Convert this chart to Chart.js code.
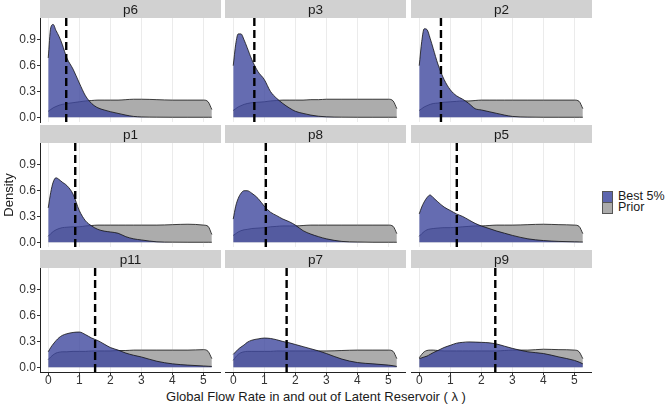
<!DOCTYPE html>
<html>
<head>
<meta charset="utf-8">
<script src="https://cdn.jsdelivr.net/npm/chart.js@4.4.1/dist/chart.umd.min.js"></script>
<style>
  html, body { margin:0; padding:0; background:#fff; }
  body { width:666px; height:405px; position:relative; overflow:hidden; font-family:"Liberation Sans", Arial, sans-serif; }
  canvas { position:absolute; }
  .key { position:absolute; width:9px; height:10px; border:0.5px solid #555; }
  .ltxt { position:absolute; font-size:12.5px; color:#1a1a1a; line-height:12px; }
  .strip { position:absolute; height:18px; line-height:19px; text-align:center; font-size:13.5px; color:#1a1a1a; z-index:5; }
  #xtitle { position:absolute; left:40px; width:552px; top:389px; text-align:center; font-size:13px; line-height:16px; color:#1a1a1a; white-space:nowrap; }
</style>
</head>
<body>
<div class="key" style="left:602px;top:191px;background:#5d66ae;"></div>
<div class="key" style="left:602px;top:202px;background:#ababab;"></div>
<div class="ltxt" style="left:618px;top:190px;">Best 5%</div>
<div class="ltxt" style="left:618px;top:201px;">Prior</div>
<div id="xtitle">Global Flow Rate in and out of Latent Reservoir ( λ )</div>
<script>
// ---- data ----
const panelNames = ['p6','p3','p2','p1','p8','p5','p11','p7','p9'];
const xGrid = [0, 0.08, 0.16, 0.25, 0.35, 0.45, 0.6, 0.8, 1.0, 1.2, 1.4, 1.6, 1.8, 2.0, 2.25, 2.5, 2.75, 3.0, 3.5, 4.0, 4.5, 5.0, 5.15, 5.27];
const xTicks = [0, 1, 2, 3, 4, 5];
const yTicks = [0, 0.3, 0.6, 0.9];
const meanLines = [0.58, 0.68, 0.70, 0.87, 1.05, 1.21, 1.51, 1.72, 2.45];

const best_p6  = [0.69,1.04,1.08,1.01,0.94,0.85,0.69,0.56,0.40,0.25,0.16,0.11,0.085,0.065,0.045,0.025,0.01,0.004,0.001,0,0,0,0,0];
const best_p3  = [0.60,0.85,0.97,0.97,0.90,0.81,0.67,0.53,0.44,0.30,0.22,0.16,0.11,0.07,0.045,0.025,0.012,0.005,0.001,0,0,0,0,0];
const best_p2  = [0.60,0.88,1.03,1.02,0.92,0.80,0.62,0.44,0.32,0.25,0.21,0.16,0.10,0.085,0.065,0.045,0.025,0.01,0.002,0,0,0,0,0];
const best_p1  = [0.40,0.58,0.70,0.75,0.73,0.70,0.66,0.56,0.37,0.25,0.19,0.15,0.13,0.12,0.105,0.065,0.04,0.027,0.005,0.001,0,0,0,0];
const best_p8  = [0.27,0.42,0.51,0.57,0.60,0.60,0.57,0.51,0.42,0.35,0.31,0.27,0.24,0.20,0.135,0.095,0.065,0.04,0.01,0.003,0,0,0,0];
const best_p5  = [0.33,0.41,0.47,0.52,0.55,0.52,0.47,0.41,0.37,0.33,0.30,0.26,0.22,0.19,0.16,0.13,0.105,0.08,0.04,0.02,0.01,0.005,0.004,0.003];
const best_p11 = [0.18,0.23,0.27,0.31,0.345,0.37,0.39,0.405,0.41,0.38,0.34,0.31,0.27,0.23,0.20,0.165,0.14,0.12,0.07,0.04,0.025,0.015,0.012,0.01];
const best_p7  = [0.15,0.18,0.21,0.235,0.26,0.29,0.315,0.33,0.34,0.335,0.32,0.30,0.285,0.265,0.24,0.215,0.19,0.16,0.095,0.055,0.04,0.025,0.018,0.01];
const best_p9  = [0.10,0.11,0.12,0.13,0.15,0.17,0.195,0.23,0.255,0.28,0.29,0.295,0.293,0.29,0.285,0.27,0.245,0.22,0.18,0.16,0.12,0.08,0.06,0.04];

const prior_p6  = [0.07,0.09,0.11,0.125,0.14,0.15,0.16,0.17,0.18,0.19,0.195,0.2,0.2,0.2,0.2,0.205,0.21,0.21,0.205,0.2,0.2,0.2,0.18,0.09];
const prior_p3  = [0.08,0.10,0.12,0.135,0.15,0.16,0.17,0.175,0.18,0.19,0.195,0.2,0.2,0.2,0.2,0.205,0.205,0.21,0.21,0.21,0.21,0.21,0.19,0.10];
const prior_p2  = [0.08,0.10,0.12,0.135,0.15,0.16,0.165,0.175,0.18,0.185,0.19,0.19,0.195,0.2,0.2,0.2,0.2,0.2,0.2,0.2,0.2,0.2,0.185,0.10];
const prior_p1  = [0.07,0.10,0.125,0.145,0.16,0.17,0.175,0.18,0.18,0.19,0.195,0.2,0.2,0.2,0.2,0.2,0.2,0.2,0.2,0.205,0.21,0.2,0.185,0.09];
const prior_p8  = [0.08,0.10,0.12,0.135,0.145,0.15,0.16,0.165,0.17,0.18,0.185,0.19,0.19,0.19,0.195,0.2,0.2,0.2,0.2,0.2,0.2,0.2,0.185,0.10];
const prior_p5  = [0.07,0.10,0.125,0.145,0.155,0.16,0.165,0.17,0.17,0.175,0.18,0.185,0.19,0.19,0.195,0.2,0.2,0.2,0.205,0.21,0.205,0.2,0.185,0.10];
const prior_p11 = [0.09,0.12,0.145,0.165,0.175,0.18,0.18,0.185,0.185,0.185,0.19,0.19,0.19,0.19,0.195,0.195,0.2,0.2,0.2,0.2,0.2,0.205,0.185,0.10];
const prior_p7  = [0.08,0.12,0.15,0.17,0.18,0.185,0.185,0.185,0.185,0.185,0.19,0.19,0.19,0.19,0.19,0.19,0.19,0.19,0.195,0.2,0.2,0.2,0.185,0.10];
const prior_p9  = [0.11,0.15,0.18,0.195,0.2,0.2,0.195,0.19,0.19,0.19,0.19,0.19,0.19,0.19,0.19,0.19,0.195,0.2,0.2,0.21,0.205,0.2,0.18,0.10];

const bestSeries  = [best_p6, best_p3, best_p2, best_p1, best_p8, best_p5, best_p11, best_p7, best_p9];
const priorSeries = [prior_p6, prior_p3, prior_p2, prior_p1, prior_p8, prior_p5, prior_p11, prior_p7, prior_p9];

// ---- layout ----
const COLS = [40, 225, 411];
const ROWS = [0, 125, 250];
const PANEL_W = 181, PANEL_H = 104, STRIP_H = 18, LM = 40, BM = 33;
const X_MIN = -0.265, X_MAX = 5.565, Y_MIN = -0.055, Y_MAX = 1.155;

Chart.defaults.font.family = '"Liberation Sans", Arial, sans-serif';

function pts(ys) { return xGrid.map((x, i) => ({x: x, y: ys[i]})); }

panelNames.forEach((name, i) => {
  const r = Math.floor(i / 3), c = i % 3;
  const isLeft = c === 0, isBottom = r === 2;
  const cv = document.createElement('canvas');
  cv.width = LM + PANEL_W; cv.height = STRIP_H + PANEL_H + BM;
  cv.style.left = (COLS[c] - LM) + 'px';
  cv.style.top = ROWS[r] + 'px';
  cv.style.width = cv.width + 'px'; cv.style.height = cv.height + 'px';
  document.body.appendChild(cv);

  const lab = document.createElement('div');
  lab.className = 'strip';
  lab.textContent = name;
  lab.style.left = COLS[c] + 'px';
  lab.style.width = PANEL_W + 'px';
  lab.style.top = ROWS[r] + 'px';
  document.body.appendChild(lab);

  const stripPlugin = {
    id: 'strip' + i,
    beforeDraw(chart) {
      const {ctx, chartArea: a} = chart;
      ctx.save();
      ctx.fillStyle = '#d1d1d1';
      ctx.fillRect(a.left, a.top - STRIP_H, a.right - a.left, STRIP_H);
      ctx.restore();
    }
  };

  new Chart(cv, {
    type: 'line',
    data: {
      datasets: [
        {
          label: 'mean',
          data: [{x: meanLines[i], y: Y_MIN}, {x: meanLines[i], y: Y_MAX}],
          borderColor: '#000', borderWidth: 2.4, borderDash: [8, 4],
          pointRadius: 0, fill: false, tension: 0
        },
        {
          label: 'Best 5%',
          data: pts(bestSeries[i]),
          borderColor: '#111', borderWidth: 0.8,
          backgroundColor: 'rgba(62,71,158,0.8)',
          fill: 'origin', pointRadius: 0, cubicInterpolationMode: 'monotone'
        },
        {
          label: 'Prior',
          data: pts(priorSeries[i]),
          borderColor: '#111', borderWidth: 0.8,
          backgroundColor: '#acacac',
          fill: 'origin', pointRadius: 0, cubicInterpolationMode: 'monotone'
        }
      ]
    },
    options: {
      responsive: false, animation: false, devicePixelRatio: 1,
      layout: { padding: { top: STRIP_H, left: 0, right: 0, bottom: 0 } },
      plugins: { legend: { display: false }, tooltip: { enabled: false } },
      scales: {
        x: {
          type: 'linear', min: X_MIN, max: X_MAX,
          afterBuildTicks: s => { s.ticks = xTicks.map(v => ({value: v})); },
          afterFit: s => { s.height = BM; },
          grid: { color: '#ebebeb', lineWidth: 1, drawTicks: isBottom, tickLength: 3, tickColor: '#333' },
          border: { display: isBottom, color: '#222', width: 1 },
          ticks: { display: isBottom, color: '#333', font: { size: 12 }, padding: -2, maxRotation: 0,
                   callback: v => String(v) },
          title: { display: false }
        },
        y: {
          type: 'linear', min: Y_MIN, max: Y_MAX,
          afterBuildTicks: s => { s.ticks = yTicks.map(v => ({value: v})); },
          afterFit: s => { s.width = LM; },
          grid: { drawOnChartArea: false, drawTicks: isLeft, tickLength: 3, tickColor: '#333' },
          border: { display: isLeft, color: '#222', width: 1 },
          ticks: { display: isLeft, color: '#333', font: { size: 12 }, padding: 1,
                   callback: v => Number(v).toFixed(1) },
          title: { display: isLeft && r === 1, text: 'Density', color: '#1a1a1a', font: { size: 13 },
                   padding: { top: 2, bottom: 0 } }
        }
      }
    },
    plugins: [stripPlugin]
  });
});
</script>
</body>
</html>
